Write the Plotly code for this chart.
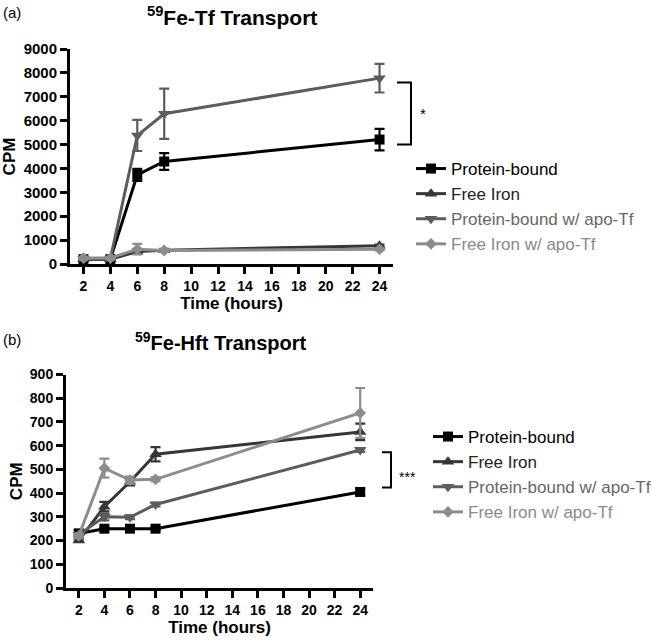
import plotly.graph_objects as go

# ---------------- data ----------------
hours = [2, 4, 6, 8, 24]
x_ticks = [2, 4, 6, 8, 10, 12, 14, 16, 18, 20, 22, 24]
series_names = ["Protein-bound", "Free Iron", "Protein-bound w/ apo-Tf", "Free Iron w/ apo-Tf"]

# Panel (a): 59Fe-Tf transport
tf_protein_bound = [200, 200, 3730, 4290, 5210]
tf_protein_bound_err = [50, 50, 250, 350, 450]
tf_free_iron = [200, 200, 520, 580, 760]
tf_free_iron_err = [30, 30, 100, 50, 50]
tf_pb_apo = [220, 220, 5380, 6290, 7780]
tf_pb_apo_err = [50, 50, 650, 1050, 600]
tf_fi_apo = [250, 250, 620, 560, 620]
tf_fi_apo_err = [50, 50, 220, 50, 50]

# Panel (b): 59Fe-Hft transport
hft_protein_bound = [230, 250, 250, 250, 405]
hft_protein_bound_err = [15, 5, 5, 5, 15]
hft_free_iron = [200, 343, 448, 564, 658]
hft_free_iron_err = [5, 20, 15, 30, 35]
hft_pb_apo = [225, 300, 298, 352, 582]
hft_pb_apo_err = [5, 15, 8, 8, 8]
hft_fi_apo = [220, 505, 455, 458, 738]
hft_fi_apo_err = [10, 40, 15, 8, 105]

# ---------------- styles ----------------
colors = ["#000000", "#363636", "#5c5c5c", "#8c8c8c"]
text_colors = ["#000000", "#222222", "#666666", "#8a8a8a"]
symbols = ["square", "triangle-up", "triangle-down", "diamond"]
msizes = [10, 11, 11, 9]
FONT = "Liberation Sans, Arial, sans-serif"
W, H = 651, 643


def px(xp):
    return xp / W


def py(yp):
    return 1 - yp / H


fig = go.Figure()

panels = [
    ("x", "y", "legend", [tf_protein_bound, tf_free_iron, tf_pb_apo, tf_fi_apo],
     [tf_protein_bound_err, tf_free_iron_err, tf_pb_apo_err, tf_fi_apo_err]),
    ("x2", "y2", "legend2", [hft_protein_bound, hft_free_iron, hft_pb_apo, hft_fi_apo],
     [hft_protein_bound_err, hft_free_iron_err, hft_pb_apo_err, hft_fi_apo_err]),
]

for xa, ya, leg, vals, errs in panels:
    for i in range(4):
        fig.add_trace(go.Scatter(
            x=hours, y=vals[i], xaxis=xa, yaxis=ya, legend=leg,
            mode="lines+markers",
            name=f"<span style='color:{text_colors[i]}'>{series_names[i]}</span>",
            line=dict(color=colors[i], width=3),
            marker=dict(symbol=symbols[i], size=msizes[i], color=colors[i]),
            error_y=dict(type="data", array=errs[i], visible=True,
                         color=colors[i], thickness=2.2, width=5),
            cliponaxis=False,
        ))

axis_common = dict(
    showline=True, linecolor="black", linewidth=3, ticks="outside",
    tickcolor="black", tickwidth=2.5, ticklen=7, showgrid=False, zeroline=False,
    automargin=False,
    tickfont=dict(family=FONT, size=14, color="black", weight="bold"),
)

fig.update_layout(
    width=W, height=H,
    margin=dict(l=0, r=0, t=0, b=0, pad=0, autoexpand=False),
    paper_bgcolor="white", plot_bgcolor="white",
    font=dict(family=FONT, color="black"),
    xaxis=dict(domain=[px(70), px(393)], range=[1, 25], tickvals=x_ticks,
               anchor="y", title=dict(text="Time (hours)", standoff=4,
                                      font=dict(size=17, weight="bold")), **axis_common),
    yaxis=dict(domain=[py(264), py(49)], range=[0, 9000], dtick=1000,
               anchor="x", title=dict(text="CPM", standoff=8,
                                      font=dict(size=17, weight="bold")),
               **{**axis_common, "tickfont": dict(family=FONT, size=15, color="black", weight="bold")}),
    xaxis2=dict(domain=[px(66), px(373)], range=[1, 25], tickvals=x_ticks,
                anchor="y2", title=dict(text="Time (hours)", standoff=4,
                                        font=dict(size=17, weight="bold")), **axis_common),
    yaxis2=dict(domain=[py(588), py(374.5)], range=[0, 900], dtick=100,
                anchor="x2", title=dict(text="CPM", standoff=3,
                                        font=dict(size=17, weight="bold")), **axis_common),
    legend=dict(x=px(411), y=py(151), xanchor="left", yanchor="top",
                font=dict(size=17, family=FONT), bgcolor="rgba(0,0,0,0)",
                tracegroupgap=0, itemwidth=30),
    legend2=dict(x=px(428), y=py(419), xanchor="left", yanchor="top",
                 font=dict(size=17, family=FONT), bgcolor="rgba(0,0,0,0)",
                 tracegroupgap=0, itemwidth=30),
    showlegend=True,
)

# titles and panel labels
ann_common = dict(xref="paper", yref="paper", showarrow=False, yanchor="middle")
fig.add_annotation(text="<sup>59</sup>Fe-Tf Transport", x=px(232), y=py(16), xanchor="center",
                   font=dict(size=21, weight="bold", family=FONT, color="black"), **ann_common)
fig.add_annotation(text="<sup>59</sup>Fe-Hft Transport", x=px(220), y=py(341), xanchor="center",
                   font=dict(size=20, weight="bold", family=FONT, color="black"), **ann_common)
fig.add_annotation(text="(a)", x=px(1), y=py(12), xanchor="left",
                   font=dict(size=15, family=FONT, color="black"), **ann_common)
fig.add_annotation(text="(b)", x=px(1), y=py(340), xanchor="left",
                   font=dict(size=15, family=FONT, color="black"), **ann_common)

# significance brackets
fig.add_shape(type="path", xref="paper", yref="y",
              path=f"M {px(397)},7600 L {px(411)},7600 L {px(411)},5000 L {px(397)},5000",
              line=dict(color="black", width=2))
fig.add_annotation(text="*", x=px(423), y=6300, xref="paper", yref="y", xanchor="center",
                   yanchor="middle", showarrow=False, font=dict(size=15, family=FONT, color="black"))
fig.add_shape(type="path", xref="paper", yref="y2",
              path=f"M {px(382)},572 L {px(391)},572 L {px(391)},424 L {px(382)},424",
              line=dict(color="black", width=2))
fig.add_annotation(text="***", x=px(407), y=470, xref="paper", yref="y2", xanchor="center",
                   yanchor="middle", showarrow=False, font=dict(size=14, family=FONT, color="black"))

# remove the browser's default 8px body margin so the figure fills the window
fig.write_html("out.html", config={"displayModeBar": False},
               post_script="document.body.style.margin='0px';")
